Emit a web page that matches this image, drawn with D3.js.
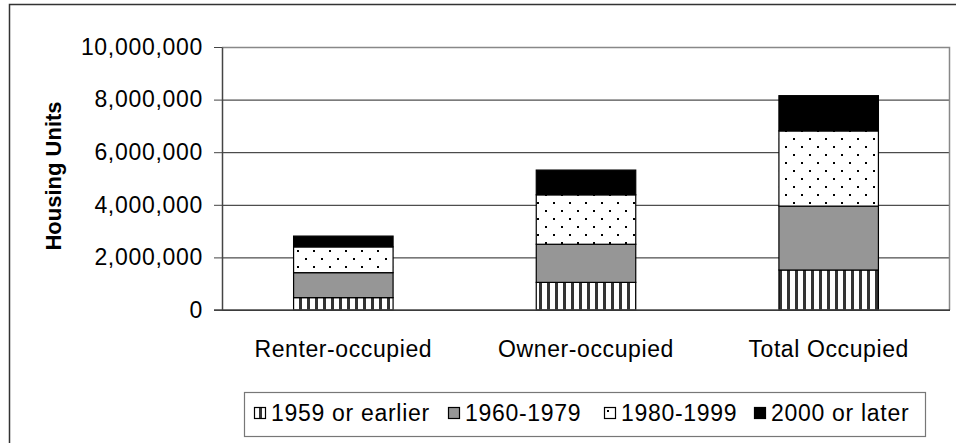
<!DOCTYPE html>
<html>
<head>
<meta charset="utf-8">
<script src="https://cdn.jsdelivr.net/npm/d3@7"></script>
<style>
  body { margin: 0; background: #fff; }
  svg { font-family: "Liberation Sans", Arial, sans-serif; }
</style>
</head>
<body>
<div class="chart-container"></div>
<script>
// 資料
const categories = ['Renter-occupied', 'Owner-occupied', 'Total Occupied'];
const seriesNames = ['1959 or earlier', '1960-1979', '1980-1999', '2000 or later'];
const s1959 = [470000, 1050000, 1520000];
const s1960 = [950000, 1450000, 2430000];
const s1980 = [980000, 1880000, 2860000];
const s2000 = [410000, 940000, 1340000];
const yTicks = [0, 2000000, 4000000, 6000000, 8000000, 10000000];

const seriesValues = [s1959, s1960, s1980, s2000];
const fills = ['url(#stripes)', '#969696', 'url(#dots)', '#000'];

// 轉成 stack 用的表
const table = categories.map((c, i) => {
    const row = {category: c};
    seriesNames.forEach((s, j) => row[s] = seriesValues[j][i]);
    return row;
});

const svg_width = 956, svg_height = 443;
const margin = {top: 47, left: 222, right: 6, bottom: 133};
const chart_width = svg_width - margin.left - margin.right;
const chart_height = svg_height - margin.top - margin.bottom;

const svg = d3.select('.chart-container').append('svg')
    .attr('width', svg_width).attr('height', svg_height);

// patterns
const defs = svg.append('defs');
const stripes = defs.append('pattern').attr('id', 'stripes')
    .attr('patternUnits', 'userSpaceOnUse').attr('width', 8).attr('height', 8);
stripes.append('rect').attr('width', 8).attr('height', 8).attr('fill', '#fff');
stripes.append('rect').attr('x', 5).attr('width', 3).attr('height', 8).attr('fill', '#333');
const dots = defs.append('pattern').attr('id', 'dots')
    .attr('patternUnits', 'userSpaceOnUse').attr('width', 16).attr('height', 16);
dots.append('rect').attr('width', 16).attr('height', 16).attr('fill', '#fff');
dots.append('rect').attr('x', 3).attr('y', 3).attr('width', 2).attr('height', 2).attr('fill', '#000');
dots.append('rect').attr('x', 11).attr('y', 11).attr('width', 2).attr('height', 2).attr('fill', '#000');

// 外框
svg.append('rect').attr('x', 9.5).attr('y', 4.5)
    .attr('width', svg_width).attr('height', svg_height)
    .attr('fill', 'none').attr('stroke', '#333').attr('stroke-width', 1.5);

const g = svg.append('g').attr('transform', `translate(${margin.left},${margin.top})`);

const xScale = d3.scaleBand().domain(categories).range([0, chart_width]).paddingInner(0.59).paddingOuter(0.295);
const yScale = d3.scaleLinear().domain([0, 10000000]).range([chart_height, 0]);

// 格線
g.append('g').attr('class', 'grid')
    .call(d3.axisLeft(yScale).tickValues(yTicks).tickSize(-chart_width).tickFormat(''))
    .call(a => a.select('.domain').remove())
    .selectAll('line').attr('stroke', '#222');

// 繪圖區外框 (上 & 右)
g.append('path')
    .attr('d', `M0,0.5H${chart_width - 0.5}V${chart_height}`)
    .attr('fill', 'none').attr('stroke', '#888').attr('stroke-width', 1.5);

// 堆疊長條
const stacked = d3.stack().keys(seriesNames)(table);
g.selectAll('.layer').data(stacked).enter()
    .append('g').attr('class', 'layer')
    .attr('fill', (d, i) => fills[i])
    .selectAll('rect').data(d => d).enter()
    .append('rect')
        .attr('x', d => xScale(d.data.category))
        .attr('y', d => yScale(d[1]))
        .attr('width', xScale.bandwidth())
        .attr('height', d => yScale(d[0]) - yScale(d[1]))
        .attr('stroke', '#000').attr('stroke-width', 1.2);

// y 軸
const yAxis = g.append('g')
    .call(d3.axisLeft(yScale).tickValues(yTicks).tickSizeInner(8).tickSizeOuter(0)
        .tickPadding(11).tickFormat(d3.format(',')));
yAxis.select('.domain').attr('stroke', '#444').attr('stroke-width', 1.5);
yAxis.selectAll('line').attr('stroke', '#444');
yAxis.selectAll('text')
    .style('font-size', '23px').style('letter-spacing', '0.7px').attr('fill', '#000');

// x 軸
g.append('path').attr('d', `M-8,${chart_height}H${chart_width}`)
    .attr('stroke', '#444').attr('stroke-width', 1.5);
g.append('g').selectAll('text').data(categories).enter()
    .append('text')
        .attr('x', d => xScale(d) + xScale.bandwidth() / 2)
        .attr('y', chart_height + 47)
        .attr('text-anchor', 'middle')
        .style('font-size', '23px').style('letter-spacing', '0.6px')
        .text(d => d);

// 軸標題
svg.append('text')
    .attr('transform', 'translate(61,176) rotate(-90)')
    .attr('text-anchor', 'middle')
    .style('font-size', '22px').style('font-weight', 'bold')
    .text('Housing Units');

// 圖例
const legend = svg.append('g').attr('transform', 'translate(244,392)');
legend.append('rect').attr('x', 0.5).attr('y', 0.5).attr('width', 681).attr('height', 44)
    .attr('fill', '#fff').attr('stroke', '#777').attr('stroke-width', 1.2);
const legendX = [10, 204, 360, 510];
const items = legend.selectAll('.item').data(seriesNames).enter()
    .append('g').attr('class', 'item')
    .attr('transform', (d, i) => `translate(${legendX[i]},15)`);
items.append('rect').attr('x', 0.5).attr('y', 0.5).attr('width', 11).attr('height', 11)
    .attr('fill', (d, i) => fills[i]).attr('stroke', '#000').attr('stroke-width', 1.2);
items.append('text').attr('x', 17).attr('y', 14)
    .style('font-size', '23px').style('letter-spacing', '0.7px')
    .text(d => d);
</script>
</body>
</html>
